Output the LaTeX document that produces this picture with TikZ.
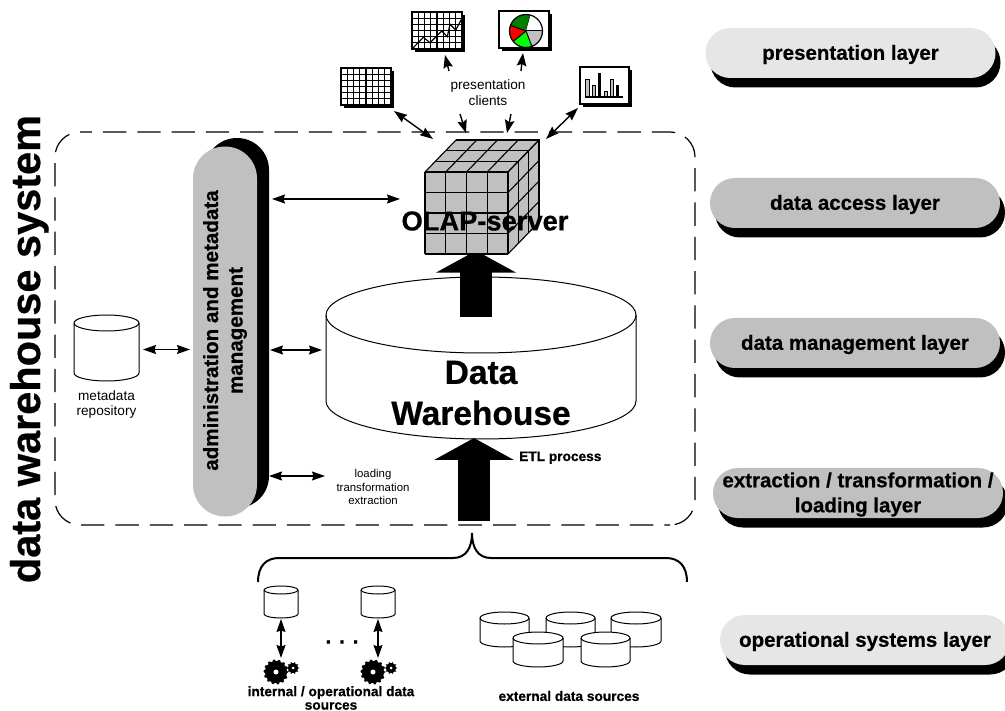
\documentclass[tikz,border=0pt]{standalone}
\usepackage{fontspec}
\setmainfont[BoldFeatures={FakeBold=0.6}]{Liberation Sans}
\usetikzlibrary{arrows.meta}
\definecolor{pilldark}{HTML}{C0C0C0}
\definecolor{pilllight}{HTML}{E6E6E6}
\definecolor{piegreen}{HTML}{008000}
\definecolor{pielime}{HTML}{00FF00}
\newcommand{\fsz}[2]{\fontsize{#1}{#2}\selectfont}
\newcommand{\cylshape}[6]{%name,cx,top,bottom,rx,ry
  \pgfmathsetmacro{\cylL}{#2-#5}\pgfmathsetmacro{\cylR}{#2+#5}
  \pgfmathsetmacro{\cylKx}{0.5523*#5}\pgfmathsetmacro{\cylKy}{0.5523*#6}
  \pgfmathsetmacro{\cylMid}{(#3+#4)/2}
  \pgfmathsetmacro{\cylH}{#4-#3+2*#6}
  \pgfmathsetmacro{\cylW}{2*#5}
  \filldraw[cylline,fill=white] (\cylL,#3) -- (\cylL,#4)
    .. controls (\cylL,#4+\cylKy) and (#2-\cylKx,#4+#6) .. (#2,#4+#6)
    .. controls (#2+\cylKx,#4+#6) and (\cylR,#4+\cylKy) .. (\cylR,#4)
    -- (\cylR,#3) .. controls (\cylR,#3-\cylKy) and (#2+\cylKx,#3-#6) .. (#2,#3-#6)
    .. controls (#2-\cylKx,#3-#6) and (\cylL,#3-\cylKy) .. (\cylL,#3) -- cycle;
  \draw[cylline] (\cylL,#3) .. controls (\cylL,#3+\cylKy) and (#2-\cylKx,#3+#6) .. (#2,#3+#6)
    .. controls (#2+\cylKx,#3+#6) and (\cylR,#3+\cylKy) .. (\cylR,#3);
  \node[anchor=center,inner sep=0pt,minimum width=\cylW pt,minimum height=\cylH pt] (#1) at (#2,\cylMid) {};
}
\newcommand{\gearshape}[5]{%x,y,R,teeth,hole
  \fill[black] plot[domain=0:360,samples=#4*4+1] ({#1+(#3-1.6+1.6*(cos(#4*\x)>0))*cos(\x)},{#2+(#3-1.6+1.6*(cos(#4*\x)>0))*sin(\x)}) -- cycle;
  \fill[white] (#1,#2) circle[radius=#5pt];
}
\newcommand{\piesector}[3]{%
  \fill[#3] (526,31) -- plot[domain=#1:#2,samples=24] ({526+16.5*cos(\x)},{31-16.5*sin(\x)}) -- cycle;
  \draw[line width=1pt] (526,31) -- ({526+16.5*cos(#1)},{31-16.5*sin(#1)});
}
\tikzset{
  x=1pt,y=-1pt,
  cylline/.style={line width=1pt,black},
  conn/.style={line width=1.4pt,{Stealth[length=13pt,width=9pt,inset=1.5pt]}-{Stealth[length=13pt,width=9pt,inset=1.5pt]}},
  oneway/.style={line width=1.4pt,-{Stealth[length=13pt,width=9.5pt,inset=2pt]}},
  bigarrow/.style={line width=32pt,-{Triangle[length=22pt,width=79pt]}},
  pill/.style={rectangle,rounded corners=24.9pt,minimum width=290pt,minimum height=50pt,inner sep=0pt,align=center,text depth=1.3pt,font=\fsz{20.5}{25}\bfseries},
  pillshadow/.style={pill,fill=black},
  smalltxt/.style={inner sep=0pt,align=center,font=\fsz{13.6}{15.5}},
  boldsmall/.style={inner sep=0pt,align=center,font=\fsz{13.7}{13.5}\bfseries},
  sysdash/.style={line width=1.2pt,rounded corners=25pt,dash pattern=on 23.3pt off 11pt},
  iconbox/.style={rectangle,draw=black,line width=1.1pt,fill=white,inner sep=0pt},
  cubeline/.style={line width=1.1pt,black},
  gridline/.style={line width=1.1pt,black},
}
\begin{document}
\begin{tikzpicture}
\useasboundingbox (0,0) rectangle (1005,711);
% system boundary
\draw[sysdash,dash phase=11.33pt] (80,132) -- (695,132) -- (695,525) -- (670,525);
\draw[sysdash,dash phase=23.3pt] (80,132) -- (55,132) -- (55,525) -- (670,525);
\node[anchor=base,rotate=90,inner sep=0pt,font=\fsz{41.5}{44}\bfseries] (title) at (40,349) {data warehouse system};
% layer pills
\node[pillshadow] (s1) at (855.5,62.5) {};
\node[pill,fill=pilllight] (l1) at (850.5,53) {presentation layer};
\node[pillshadow] (s2) at (860,212.5) {};
\node[pill,fill=pilldark] (l2) at (855,203) {data access layer};
\node[pillshadow] (s3) at (860,352.5) {};
\node[pill,fill=pilldark] (l3) at (855,343) {data management layer};
\node[pillshadow] (s4) at (863,502.5) {};
\node[pill,fill=pilldark] (l4) at (858,493) {extraction / transformation /\\loading layer};
\node[pillshadow] (s5) at (870,649.5) {};
\node[pill,fill=pilllight] (l5) at (865,640) {operational systems layer};
% admin
\node[rectangle,fill=black,rounded corners=31.9pt,minimum width=64pt,minimum height=370pt,inner sep=0pt] (adminshadow) at (237,323) {};
\node[rectangle,fill=pilldark,rounded corners=31.9pt,minimum width=64pt,minimum height=370pt,inner sep=0pt] (adminbox) at (225,331.5) {};
\node[rotate=90,inner sep=0pt,align=center,font=\fsz{20.6}{24.5}\bfseries] (admintext) at (225,330.5) {administration and metadata\\management};
% cylinders
\cylshape{meta}{106.5}{323}{373}{32.5}{8}
\node[smalltxt] (metatext) at (106.5,404.5) {metadata\\repository};
\cylshape{dw}{481}{315}{401}{155}{38}
% big arrows
\coordinate (a1s) at (476,317); \coordinate (a1e) at (476,250.6);
\draw[bigarrow] (a1s) -- (a1e);
\coordinate (a2s) at (474,521); \coordinate (a2e) at (474,438);
\draw[bigarrow] (a2s) -- (a2e);
\node[inner sep=0pt,align=center,font=\fsz{33.5}{41}\bfseries] (dwtext) at (481,393) {Data\\Warehouse};
% cube
\fill[pilldark] (425,172) -- (456,140) -- (539,140) -- (539,222) -- (508,254) -- (425,254) -- cycle;
\foreach \i in {0,1,2,3,4}{
  \draw[cubeline] ({425+\i*20.75},172) -- ({425+\i*20.75},254);
  \draw[cubeline] (425,{172+\i*20.5}) -- (508,{172+\i*20.5});
  \draw[cubeline] ({425+\i*20.75},172) -- ({456+\i*20.75},140);
  \draw[cubeline] (508,{172+\i*20.5}) -- (539,{140+\i*20.5});
}
\foreach \k in {1,2,3}{
  \draw[cubeline] ({425+\k*10.33},{172-\k*10.67}) -- ({508+\k*10.33},{172-\k*10.67}) -- ({508+\k*10.33},{254-\k*10.67});
}
\node[inner sep=0pt,font=\fsz{27.3}{30}\bfseries] (olap) at (485,221) {OLAP-server};
% table icon
\fill[black] (344,71) rectangle (394,108);
\node[iconbox,minimum width=50pt,minimum height=37pt] (table) at (366,86.5) {};
\foreach \i in {1,...,7}{\draw[gridline] ({341+\i*6.25},68) -- ({341+\i*6.25},105);}
\foreach \j in {1,...,5}{\draw[gridline] (341,{68+\j*6.17}) -- (391,{68+\j*6.17});}
% line chart icon
\fill[black] (415,15) rectangle (465,52);
\node[iconbox,minimum width=50pt,minimum height=37pt] (linechart) at (437,30.5) {};
\foreach \i in {1,...,7}{\draw[gridline] ({412+\i*6.25},12) -- ({412+\i*6.25},49);}
\foreach \j in {1,...,5}{\draw[gridline] (412,{12+\j*6.17}) -- (462,{12+\j*6.17});}
\draw[line width=1.2pt] (412,49) -- (423.3,37.3) -- (430,42.7) -- (441.7,31) -- (447.3,36.7) -- (450,24.3) -- (455.7,30) -- (462,18.3);
% pie icon
\fill[black] (502,14) rectangle (552,51);
\node[iconbox,minimum width=50pt,minimum height=37pt] (pie) at (524,29.5) {};
\piesector{74}{160}{piegreen}
\piesector{160}{219}{red}
\piesector{219}{291}{pielime}
\piesector{291}{360}{pilldark}
\piesector{0}{74}{white}
\draw[line width=1.2pt] (526,31) circle[radius=16.5pt];
% bar chart icon
\fill[black] (583,70) rectangle (632,107);
\node[iconbox,minimum width=49pt,minimum height=37pt] (bars) at (604.5,85.5) {};
\foreach \a/\b/\t in {585.7/589.3/79,592/595/85,604.3/607/91,610.3/613.7/79}{
  \filldraw[fill=pilldark,line width=.8pt] (\a,\t) rectangle (\b,97);
}
\foreach \a/\b/\t in {597.7/601/72.7,616/619.3/85}{
  \fill[black] (\a,\t) rectangle (\b,97);
}
\draw[line width=1.1pt] (585,97) -- (623,97);
\node[smalltxt] (clients) at (488,92.5) {presentation\\clients};
% small arrows
\coordinate (c1) at (394,111); \coordinate (c2) at (433,139);
\draw[conn] (c1) -- (c2);
\coordinate (c3) at (449,71); \coordinate (c4) at (445,55);
\draw[oneway] (c3) -- (c4);
\coordinate (c5) at (521,71); \coordinate (c6) at (523,53);
\draw[oneway] (c5) -- (c6);
\coordinate (c7) at (460,114); \coordinate (c8) at (466,133);
\draw[oneway] (c7) -- (c8);
\coordinate (c9) at (511,114); \coordinate (c10) at (507,133);
\draw[oneway] (c9) -- (c10);
\coordinate (c11) at (578,108); \coordinate (c12) at (546,139);
\draw[conn] (c11) -- (c12);
\coordinate (d1) at (272,199); \coordinate (d2) at (400,199);
\draw[conn] (d1) -- (d2);
\coordinate (d3) at (143,349.5); \coordinate (d4) at (190,349.5);
\draw[conn] (d3) -- (d4);
\coordinate (d5) at (270,350); \coordinate (d6) at (322,350);
\draw[conn] (d5) -- (d6);
\coordinate (d7) at (269,476); \coordinate (d8) at (325,476);
\draw[conn] (d7) -- (d8);
\node[inner sep=0pt,align=center,font=\fsz{11.4}{13.3}] (loadtext) at (373,487) {loading\\transformation\\extraction};
\node[boldsmall,anchor=base west] (etl) at (519,461) {ETL process};
% brace
\coordinate (bl) at (258,582); \coordinate (bt) at (472,533); \coordinate (br) at (687,582);
\draw[line width=2pt] (bl) .. controls (258,566) and (266,558) .. (279,558) -- (453,558)
  .. controls (466,558) and (472,548) .. (bt) .. controls (472,548) and (478,558) .. (491,558)
  -- (666,558) .. controls (679,558) and (687,566) .. (br);
% operational
\cylshape{op1}{281}{590}{614}{17}{4}
\cylshape{op2}{378}{590}{614}{17}{4}
\coordinate (e1) at (281,619); \coordinate (e2) at (281,658);
\draw[conn] (e1) -- (e2);
\coordinate (e3) at (378,619); \coordinate (e4) at (378,658);
\draw[conn] (e3) -- (e4);
\gearshape{276}{672}{12.5}{14}{2.5}
\gearshape{293}{668}{6.5}{10}{1.5}
\gearshape{373}{672}{12.5}{14}{2.5}
\gearshape{391}{668}{6.5}{10}{1.5}
\node[inner sep=0pt,font=\fsz{21}{24}\bfseries] (dots) at (342,642) {. . .};
\node[boldsmall] (inttext) at (331,698) {internal / operational data\\sources};
% external
\cylshape{ex1}{504.5}{618}{641}{24.5}{6}
\cylshape{ex2}{570.5}{618}{641}{24.5}{6}
\cylshape{ex3}{636}{618}{641}{25}{6}
\cylshape{ex4}{538}{638}{661}{25}{6}
\cylshape{ex5}{605.5}{638}{661}{24.5}{6}
\node[boldsmall] (exttext) at (569,696) {external data sources};
\end{tikzpicture}
\end{document}
